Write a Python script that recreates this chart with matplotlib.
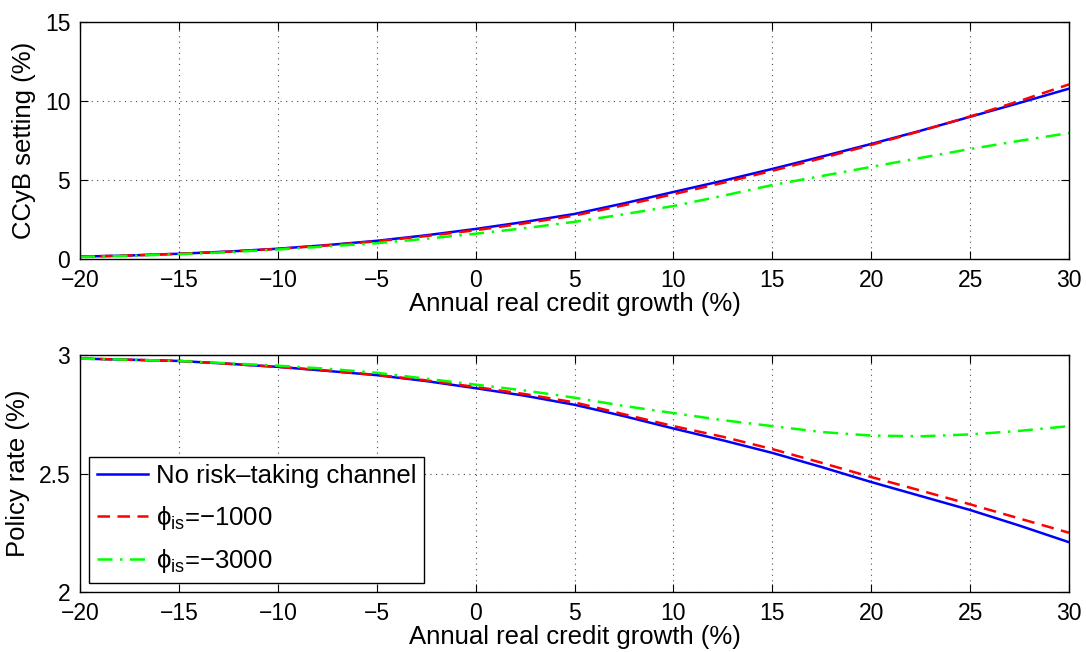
import numpy as np
import matplotlib
matplotlib.use("Agg")
import matplotlib.pyplot as plt

plt.rcParams['font.family'] = ['Liberation Sans', 'DejaVu Sans']
plt.rcParams['mathtext.fontset'] = 'custom'
plt.rcParams['mathtext.rm'] = 'Liberation Sans'
plt.rcParams['mathtext.it'] = 'Liberation Sans'

# credit growth grid (%)
credit = [-20, -17.5, -15, -12.5, -10, -7.5, -5, -2.5, 0, 2.5, 5, 7.5,
          10, 12.5, 15, 17.5, 20, 22.5, 25, 27.5, 30]

# CCyB setting (%)
ccyb_none = [0.15, 0.22, 0.33, 0.47, 0.65, 0.88, 1.15, 1.5, 1.9, 2.35, 2.85, 3.52,
             4.24, 4.95, 5.7, 6.48, 7.28, 8.12, 9.0, 9.88, 10.78]
ccyb_1000 = [0.15, 0.22, 0.33, 0.46, 0.64, 0.86, 1.12, 1.45, 1.82, 2.26, 2.75, 3.4,
             4.1, 4.82, 5.58, 6.38, 7.22, 8.1, 9.02, 10.0, 11.05]
ccyb_3000 = [0.13, 0.2, 0.3, 0.43, 0.6, 0.8, 1.0, 1.28, 1.6, 1.95, 2.35, 2.83,
             3.35, 4.0, 4.68, 5.25, 5.83, 6.4, 6.96, 7.48, 7.97]

# policy rate (%)
rate_none = [2.985, 2.98, 2.975, 2.963, 2.95, 2.933, 2.915, 2.89, 2.86, 2.828, 2.79, 2.742,
             2.69, 2.64, 2.587, 2.527, 2.464, 2.405, 2.346, 2.28, 2.21]
rate_1000 = [2.985, 2.98, 2.975, 2.963, 2.95, 2.934, 2.916, 2.893, 2.865, 2.835, 2.80, 2.75,
             2.70, 2.655, 2.603, 2.545, 2.485, 2.428, 2.37, 2.31, 2.25]
rate_3000 = [2.985, 2.98, 2.975, 2.965, 2.955, 2.942, 2.925, 2.9, 2.875, 2.85, 2.82, 2.785,
             2.755, 2.725, 2.70, 2.675, 2.66, 2.657, 2.665, 2.68, 2.70]

labels = ["No risk\u2013taking channel",
          "$\\phi_{\\mathrm{is}}$=\u22121000",
          "$\\phi_{\\mathrm{is}}$=\u22123000"]

fig = plt.figure(figsize=(10.86, 6.52), dpi=100)
ax1 = fig.add_axes([0.0737, 0.6028, 0.9107, 0.3635])
ax2 = fig.add_axes([0.0737, 0.0920, 0.9107, 0.3635])

def style(ax):
    ax.set_xlim(-20, 30)
    ax.set_xticks(np.arange(-20, 31, 5))
    ax.grid(True, ls=(0, (1, 4)), color='k', lw=0.8, alpha=0.7)
    ax.tick_params(direction='in', top=True, right=True, labelsize=16.5, length=6, pad=7)
    ax.set_xlabel("Annual real credit growth (%)", fontsize=18.5, labelpad=0)
    for s in ax.spines.values():
        s.set_linewidth(1.0)

ax1.plot(credit, ccyb_none, color='#0000ff', lw=1.8, ls='-')
ax1.plot(credit, ccyb_1000, color='#ff0000', lw=1.8, ls=(0, (5, 3)))
ax1.plot(credit, ccyb_3000, color='#00ff00', lw=1.8, ls=(0, (6, 3, 1, 3)))
style(ax1)
ax1.set_ylim(0, 15)
ax1.set_yticks([0, 5, 10, 15])
ax1.set_ylabel("CCyB setting (%)", fontsize=18.5, labelpad=6)

ax2.plot(credit, rate_none, color='#0000ff', lw=1.8, ls='-', label=labels[0])
ax2.plot(credit, rate_1000, color='#ff0000', lw=1.8, ls=(0, (5, 3)), label=labels[1])
ax2.plot(credit, rate_3000, color='#00ff00', lw=1.8, ls=(0, (6, 3, 1, 3)), label=labels[2])
style(ax2)
ax2.set_ylim(2, 3)
ax2.set_yticks([2, 2.5, 3])
ax2.set_yticklabels(["2", "2.5", "3"])
ax2.set_ylabel("Policy rate (%)", fontsize=18.5, labelpad=6)

leg = ax2.legend(loc='lower left', fontsize=18.5, fancybox=False, framealpha=1,
                 edgecolor='k', borderaxespad=0.35, handlelength=2.0,
                 handletextpad=0.3, labelspacing=0.6, borderpad=0.3)
leg.get_frame().set_linewidth(1.0)

fig.savefig("out.png", dpi=100)
